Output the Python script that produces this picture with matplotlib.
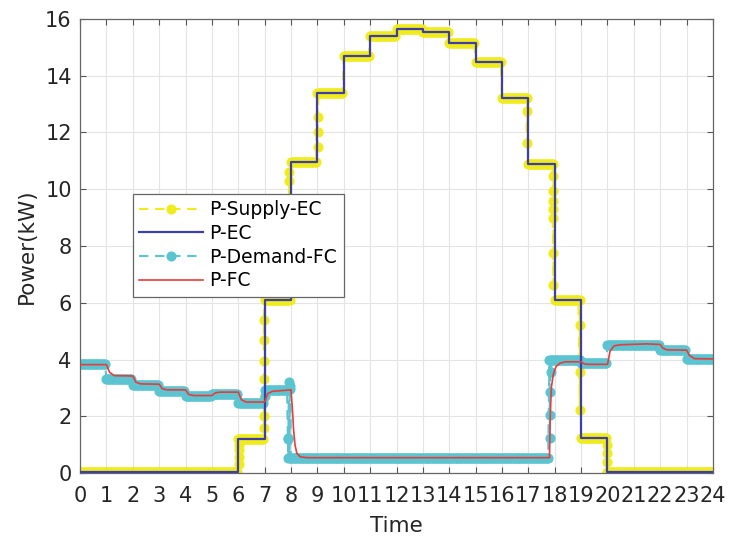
import matplotlib.pyplot as plt
import numpy as np

plt.rcParams['font.family'] = ['DejaVu Sans']

# ---------------- data ----------------
hours = list(range(25))
# hourly electrolyser supply / consumption, kW
supply_levels = [0.05, 0.05, 0.05, 0.05, 0.05, 0.05, 1.2, 6.1, 10.95, 13.4,
                 14.7, 15.4, 15.65, 15.55, 15.15, 14.5, 13.2, 10.9, 6.1, 1.22,
                 0.05, 0.05, 0.05, 0.05]
ec_levels = supply_levels

# loose supply points on the steps
supply_dot_t = [6.03, 6.03, 6.03, 6.03, 6.97, 6.97, 6.97, 6.97, 6.97, 6.97, 6.97,
                7.93, 7.93, 9.02, 9.02, 9.02, 16.95, 16.95,
                17.95, 17.95, 17.95, 17.95, 17.95, 17.95, 17.95,
                18.95, 18.95, 18.95, 19.98, 19.98, 19.98]
supply_dot_v = [0.3, 0.55, 0.8, 1.0, 1.6, 2.0, 2.65, 3.3, 3.95, 4.7, 5.4,
                10.3, 10.6, 11.5, 12.03, 12.56, 11.62, 12.74,
                6.63, 7.75, 9.0, 9.3, 9.6, 9.95, 10.45,
                2.22, 3.57, 5.22, 0.4, 0.69, 0.99]

# fuel cell demand, piecewise constant
demand_edges = [0, 1, 2, 3, 4, 5, 6, 7, 7.9, 17.8, 19, 20, 22, 23, 24]
demand_levels = [3.85, 3.33, 3.1, 2.9, 2.7, 2.8, 2.47, 2.93, 0.52, 3.97,
                 3.86, 4.5, 4.33, 4.02]
demand_dot_t = [7.0, 7.92, 7.95, 7.97, 7.88, 7.9, 17.82, 17.82, 17.82, 17.85]
demand_dot_v = [2.7, 3.2, 3.05, 2.95, 1.25, 1.2, 1.22, 2.05, 2.87, 3.55]

# fuel cell output (follows demand with a lag)
fc_t = [0, 1.0, 1.12, 1.3, 2.0, 2.12, 2.3, 3.0, 3.12, 3.3, 4.0, 4.12, 4.3,
        5.0, 5.12, 5.3, 6.0, 6.12, 6.3, 7.0, 7.12, 7.3, 8.0, 8.05, 8.1,
        8.15, 8.22, 8.35, 8.6, 17.8, 17.83, 17.87, 17.95, 18.05, 18.2,
        18.4, 19.0, 19.1, 19.25, 20.0, 20.1, 20.25, 20.5, 21.5, 22.0,
        22.1, 22.25, 23.0, 23.1, 23.3, 24.0]
fc_v = [3.82, 3.82, 3.55, 3.43, 3.42, 3.2, 3.14, 3.13, 2.97, 2.93, 2.93,
        2.77, 2.73, 2.73, 2.82, 2.85, 2.85, 2.58, 2.5, 2.5, 2.8, 2.88, 2.93,
        2.3, 1.5, 1.0, 0.7, 0.57, 0.54, 0.54, 2.0, 3.0, 3.5, 3.75, 3.87,
        3.92, 3.92, 3.85, 3.83, 3.83, 4.3, 4.48, 4.52, 4.55, 4.53, 4.4,
        4.34, 4.33, 4.15, 4.03, 4.02]

DT = 0.05  # sampling step of the measured series, h


def sample_steps(edges, levels, extra_t, extra_v):
    ''' piecewise constant series sampled every DT plus loose points '''
    tt, vv = [], []
    for a, b, lv in zip(edges[:-1], edges[1:], levels):
        s = np.arange(a, b - 1e-9, DT)
        tt.extend(s)
        vv.extend([lv] * len(s))
    tt.append(edges[-1])
    vv.append(levels[-1])
    tt = np.array(tt + list(extra_t))
    vv = np.array(vv + list(extra_v))
    order = np.argsort(tt, kind='stable')
    return tt[order], vv[order]


sup_t, sup_v = sample_steps(hours, supply_levels, supply_dot_t, supply_dot_v)
dem_t, dem_v = sample_steps(demand_edges, demand_levels, demand_dot_t, demand_dot_v)

# ---------------- draw ----------------
YELLOW = '#f0ec1c'
CYAN = '#5bc4d0'
BLUE = '#3d3dac'
RED = '#e63c3c'
TXT = '#262626'

fig = plt.figure(figsize=(7.43, 5.38), dpi=100)
ax = fig.add_axes([0.1077, 0.1208, 0.8519, 0.8439])

ax.plot(sup_t, sup_v, color=YELLOW, lw=1.5, dashes=(4.5, 3.2), marker='o',
        ms=6.3, mfc=YELLOW, mec=YELLOW, label='P-Supply-EC', zorder=2)
ax.plot(dem_t, dem_v, color=CYAN, lw=1.5, dashes=(4.5, 3.2), marker='o',
        ms=6.3, mfc=CYAN, mec=CYAN, label='P-Demand-FC', zorder=2)
ax.step(hours, ec_levels + [ec_levels[-1]], where='post', color=BLUE, lw=1.6,
        label='P-EC', zorder=3)
ax.plot(fc_t, fc_v, color=RED, lw=1.2, label='P-FC', zorder=4)

ax.set_xlim(0, 24)
ax.set_ylim(0, 16)
ax.set_xticks(range(25))
ax.set_yticks(range(0, 17, 2))
ax.grid(True, color='#e4e4e4', lw=0.8)
ax.set_axisbelow(True)
ax.tick_params(direction='in', top=True, right=True, length=4, width=0.8,
               colors='#555555', labelcolor=TXT, labelsize=15)
ax.tick_params(axis='x', pad=9)
ax.tick_params(axis='y', pad=6)
for sp in ax.spines.values():
    sp.set_color('#666666')
    sp.set_linewidth(0.9)

ax.set_xlabel('Time', fontsize=15.5, color=TXT)
ax.set_ylabel('Power(kW)', fontsize=15.5, color=TXT)
ax.xaxis.set_label_coords(0.5, -0.095)
ax.yaxis.set_label_coords(-0.068, 0.5)

handles, labels = ax.get_legend_handles_labels()
want = ['P-Supply-EC', 'P-EC', 'P-Demand-FC', 'P-FC']
hl = [handles[labels.index(w)] for w in want]
leg = ax.legend(hl, want, loc='upper left', bbox_to_anchor=(0.083, 0.615),
                fontsize=13.5, handlelength=3.4, handletextpad=0.35,
                labelspacing=0.25, borderpad=0.35, borderaxespad=0,
                fancybox=False, framealpha=1, edgecolor='#666666', numpoints=1)
leg.get_frame().set_linewidth(0.9)

fig.savefig('out.png', dpi=100)
